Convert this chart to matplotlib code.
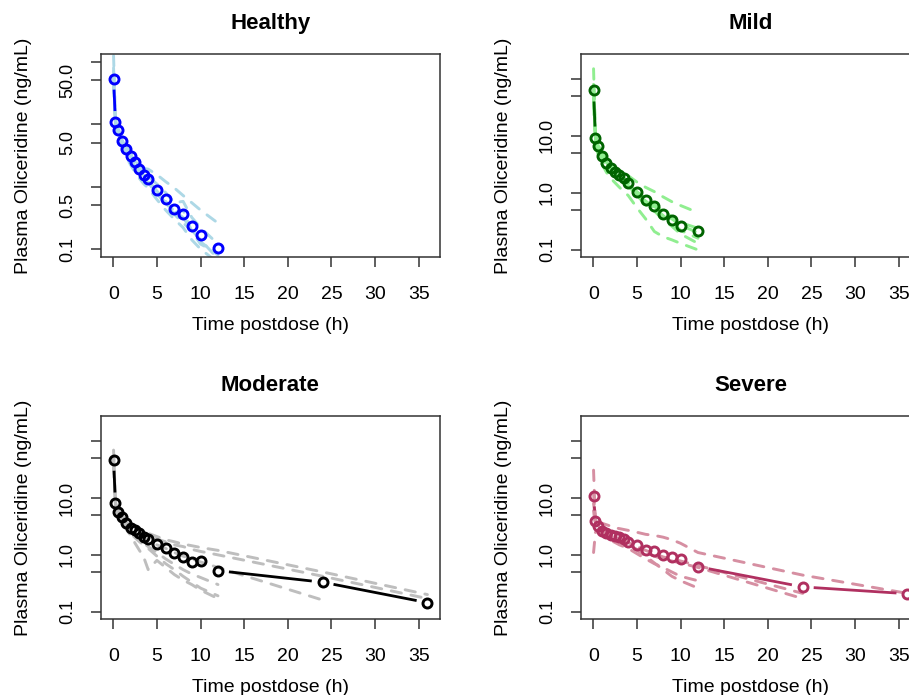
import numpy as np
import matplotlib
matplotlib.use("Agg")
import matplotlib.pyplot as plt

plt.rcParams['font.family'] = ['Liberation Sans', 'DejaVu Sans']
plt.rcParams['lines.scale_dashes'] = False

nan = np.nan

# sampling times (h)
t_short = [0.033, 0.25, 0.5, 1, 1.5, 2, 2.5, 3, 3.5, 4, 5, 6, 7, 8, 9, 10, 12]
t_long = t_short + [24, 36]

# group means (ng/mL)
healthy_mean = [53.5, 10.8, 8.07, 5.44, 4.06, 3.10, 2.46, 1.94, 1.54, 1.34,
                0.895, 0.628, 0.44, 0.37, 0.232, 0.167, 0.102]
mild_mean = [62.4, 9.33, 6.68, 4.40, 3.40, 2.71, 2.36, 2.07, 1.83, 1.50,
             1.03, 0.745, 0.585, 0.429, 0.340, 0.264, 0.213]
moderate_mean = [47.3, 8.03, 5.73, 4.55, 3.62, 2.96, 2.76, 2.41, 2.10, 1.91,
                 1.55, 1.31, 1.10, 0.933, 0.762, 0.78, 0.528, 0.330, 0.144]
severe_mean = [11.1, 3.87, 3.16, 2.68, 2.41, 2.25, 2.16, 2.05, 1.91, 1.70,
               1.50, 1.21, 1.16, 1.00, 0.91, 0.83, 0.62, 0.273, 0.207]

# individual subjects
healthy_subj = [
    [125, 12, 8.5, 5.6, 4.1, 3.0, 2.4, 1.9, 1.5, 1.3, 0.85, 0.58, 0.40, 0.32, 0.20, 0.14, 0.07],
    [60, 10, 7.5, 5.2, 4.0, 3.2, 2.6, 2.2, 1.95, 1.9, 1.55, 1.2, 0.95, 0.72, 0.55, 0.42, 0.26],
    [45, 9.0, 6.5, 4.2, 3.0, 2.2, 1.7, 1.35, 1.1, 0.95, 0.62, 0.42, 0.30, 0.22, 0.14, 0.10, 0.06],
    [80, 11.5, 9.0, 6.0, 4.4, 3.4, 2.7, 2.1, 1.7, 1.45, 1.1, 0.80, 0.55, 0.58, 0.32, 0.22, 0.12],
    [40, 10.5, 8.0, 5.0, 3.6, 2.7, 2.1, 1.7, 1.4, 1.15, 0.78, 0.52, 0.36, 0.26, 0.20, 0.13, 0.08],
    [70, 11, 8.2, 5.3, 3.9, 3.0, 2.3, 1.8, 1.45, 1.25, 0.80, 0.55, 0.38, 0.42, 0.19, 0.12, 0.085],
]
mild_subj = [
    [150, 10, 7.5, 5.0, 3.9, 3.2, 2.8, 2.5, 2.3, 2.0, 1.55, 1.25, 1.05, 0.85, 0.70, 0.60, 0.45],
    [35, 7.0, 5.0, 3.2, 2.3, 1.8, 1.5, 1.25, 1.05, 0.9, 0.55, 0.35, 0.21, 0.17, 0.15, 0.13, 0.10],
    [80, 10.5, 7.2, 4.8, 3.6, 2.8, 2.4, 2.1, 1.85, 1.55, 1.05, 0.80, 0.62, 0.48, 0.38, 0.30, 0.24],
    [55, 8.5, 6.0, 4.0, 3.1, 2.5, 2.2, 1.9, 1.7, 1.35, 0.90, 0.62, 0.48, 0.34, 0.26, 0.19, 0.13],
    [45, 9.0, 6.5, 4.5, 3.5, 2.6, 2.2, 1.9, 1.6, 1.45, 1.0, 0.72, 0.55, 0.40, 0.30, 0.22, 0.16],
    [70, 11, 7.8, 4.6, 3.3, 2.4, 2.0, 1.7, 1.5, 1.3, 0.95, 0.70, 0.58, 0.42, 0.35, 0.27, 0.20],
]
moderate_subj = [
    [70, 9, 6.5, 5.0, 4.0, 3.4, 3.1, 2.8, 2.6, 2.4, 2.1, 1.85, 1.7, 1.55, 1.45, 1.35, 1.2, 0.50, 0.20],
    [50, 8.5, 6.0, 4.6, 3.8, 3.2, 2.9, 2.6, 2.4, 2.2, 1.9, 1.7, 1.5, 1.4, 1.25, 1.15, 1.0, 0.42, 0.17],
    [40, 8.0, 5.5, 4.3, 3.4, 2.8, 2.5, 2.2, 2.0, 1.8, 1.5, 1.3, 1.1, 0.95, 0.85, 0.75, 0.6, 0.16, nan],
    [45, 7.5, 5.3, 4.0, 3.0, 2.4, 2.0, 1.7, 1.5, 1.3, 0.95, 0.70, 0.55, 0.42, 0.33, 0.26, 0.19, nan, nan],
    [35, 7, 5, 3.6, 2.8, 2.2, 1.6, 1.2, 0.9, 0.55, 0.8, 0.6, 0.45, 0.36, 0.30, 0.24, 0.17, nan, nan],
    [55, 8, 5.8, 4.2, 3.3, 2.6, 2.2, 1.9, 1.6, 1.4, 1.1, 0.85, 0.68, 0.55, 0.46, 0.40, 0.30, nan, nan],
]
severe_subj = [
    [8, 4.5, 3.9, 3.6, 3.4, 3.2, 3.0, 2.9, 2.8, 2.7, 2.5, 2.3, 2.2, 2.05, 1.85, 1.6, 1.1, 0.44, 0.21],
    [31, 3.5, 3.0, 2.6, 2.3, 2.1, 2.0, 1.9, 1.7, 1.5, 1.2, 0.95, 0.72, 0.55, 0.42, 0.35, 0.26, nan, nan],
    [1.1, 2.5, 2.6, 2.3, 2.1, 1.95, 1.8, 1.7, 1.6, 1.5, 1.25, 1.1, 0.95, 0.85, 0.78, 0.72, 0.6, 0.17, nan],
    [12, 4.0, 3.2, 2.7, 2.4, 2.2, 2.05, 1.95, 1.8, 1.65, 1.4, 1.2, 1.05, 0.92, 0.85, 0.78, 0.65, 0.21, nan],
    [6, 3.2, 2.6, 2.2, 2.0, 1.8, 1.65, 1.5, 1.4, 1.3, 1.05, 0.85, 0.7, 0.6, 0.5, 0.42, 0.35, nan, nan],
]

y_ticks = [0.1, 0.5, 1, 5, 10, 50, 100]
x_ticks = [0, 5, 10, 15, 20, 25, 30, 35]

panels = [
    ("Healthy", t_short, healthy_mean, healthy_subj, "#0000FF", "#ADD8E6",
     ["0.1", "0.5", "", "5.0", "", "50.0", ""], (-1.128, 2.123)),
    ("Mild", t_short, mild_mean, mild_subj, "#006400", "#90EE90",
     ["0.1", "", "1.0", "", "10.0", "", ""], (-1.125, 2.435)),
    ("Moderate", t_long, moderate_mean, moderate_subj, "#000000", "#BEBEBE",
     ["0.1", "", "1.0", "", "10.0", "", ""], (-1.129, 2.445)),
    ("Severe", t_long, severe_mean, severe_subj, "#B03060", "#D68FA2",
     ["0.1", "", "1.0", "", "10.0", "", ""], (-1.129, 2.445)),
]

W, H = 909, 695
fig = plt.figure(figsize=(W / 100, H / 100), dpi=100)

# panel boxes in pixels: left, top
boxes = [(100.7, 54), (580.7, 54), (100.7, 416), (580.7, 416)]
bw, bh = 339.3, 203


def gapped_line(ax, x, y, color, gap=11):
    pts = ax.transData.transform(np.column_stack([x, y]))
    inv = ax.transData.inverted()
    for i in range(len(pts) - 1):
        p0, p1 = pts[i], pts[i + 1]
        d = p1 - p0
        L = np.hypot(d[0], d[1])
        if L <= 2 * gap:
            continue
        u = d / L
        a = inv.transform(p0 + u * gap)
        b = inv.transform(p1 - u * gap)
        ax.plot([a[0], b[0]], [a[1], b[1]], color=color, lw=2.0,
                solid_capstyle='butt', zorder=3)


for (title, t, mean, subj, col, lcol, ylabs, ylim), (bl, bt) in zip(panels, boxes):
    ax = fig.add_axes([bl / W, 1 - (bt + bh) / H, bw / W, bh / H])
    ax.set_yscale('log')
    ax.set_xlim(-1.44, 37.44)
    ax.set_ylim(10 ** ylim[0], 10 ** ylim[1])
    ax.minorticks_off()
    ax.set_xticks(x_ticks)
    ax.set_xticklabels([str(v) for v in x_ticks], fontsize=14)
    ax.set_yticks(y_ticks)
    ax.set_yticklabels(ylabs, fontsize=13, rotation=90, va='center')
    ax.tick_params(axis='both', length=7.2, width=1.1, color='#333333')
    ax.tick_params(axis='x', pad=14)
    ax.tick_params(axis='y', pad=10.5)
    for s in ax.spines.values():
        s.set_linewidth(1.1)
        s.set_color('#333333')

    for s_vals in subj:
        ax.plot(t, s_vals, color=lcol, lw=2.1, linestyle=(0, (7.5, 7)),
                dash_capstyle='round', zorder=2)

    gapped_line(ax, t, mean, col)
    ax.plot(t, mean, linestyle='none', marker='o', ms=6.5, mew=2.1,
            mfc='none', mec=col, zorder=4)

    cx = bl + bw / 2
    fig.text(cx / W, 1 - (bt - 25) / H, title, ha='center', va='baseline',
             fontsize=16, fontweight='bold')
    fig.text(cx / W, 1 - (bt + bh + 69) / H, "Time postdose (h)",
             ha='center', va='center', fontsize=14)
    fig.text((bl - 77) / W, 1 - (bt + bh / 2) / H, "Plasma Oliceridine (ng/mL)",
             ha='center', va='center', rotation=90, fontsize=14)

fig.savefig("out.png", dpi=100)
